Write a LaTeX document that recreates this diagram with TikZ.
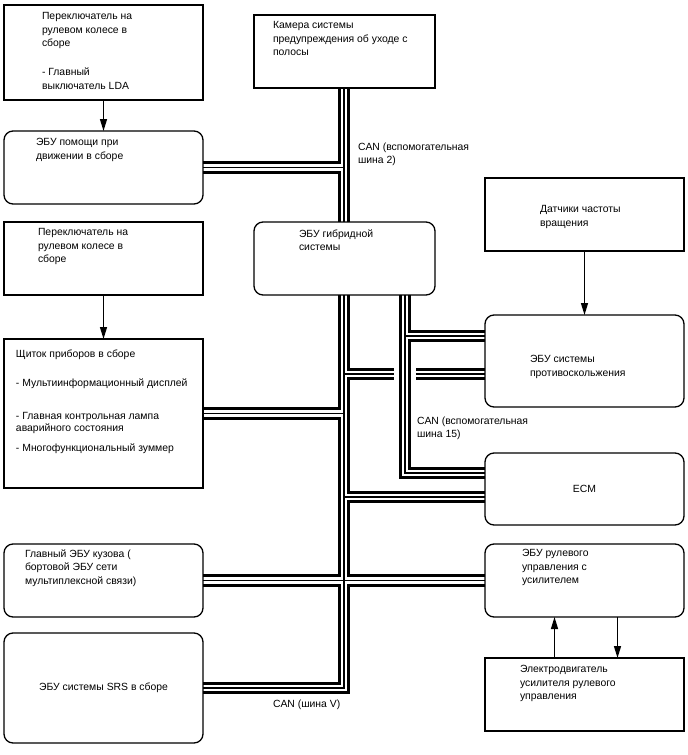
\documentclass[tikz,border=0pt]{standalone}
\usepackage{fontspec}
\setmainfont{Liberation Sans}
\usetikzlibrary{arrows.meta,positioning,calc,backgrounds}
\tikzset{
 box/.style={draw,line width=1.3pt,anchor=north west,outer sep=0pt,inner sep=0pt,minimum width=199pt,font=\fontsize{10.4}{13.5}\selectfont},
 ecu/.style={box,rounded corners=9pt},
 txt/.style={anchor=north west,align=left,inner sep=0pt,outer sep=0pt,font=\fontsize{10.4}{13.5}\selectfont},
 arr/.style={-{Triangle[length=12pt,width=7pt]},line width=1.3pt},
 busout/.style={line width=12.5pt,draw=black},
 busgap/.style={line width=6.5pt,draw=white},
 busmid/.style={line width=1.6pt,draw=black},
 hop/.style={line width=22pt,draw=white}
}
\begin{document}
\begin{tikzpicture}[x=1pt,y=-1pt]
\useasboundingbox (0,0) rectangle (688,755);
% left column
\node[box,minimum height=95pt] (sw1) at (4,5) {};
\node[txt,below right=7.5pt and 38pt of sw1.north west] (sw1t) {Переключатель на\\рулевом колесе в\\сборе\\[15.5pt]- Главный\\выключатель LDA};
\node[ecu,minimum height=73pt] (da) at (4,131) {};
\node[txt,below right=7.5pt and 32pt of da.north west] (dat1) {ЭБУ помощи при\\движении в сборе};
\node[box,minimum height=73pt] (sw2) at (4,222) {};
\node[txt,below right=6.5pt and 34pt of sw2.north west] (sw2t) {Переключатель на\\рулевом колесе в\\сборе};
\node[box,minimum height=149pt] (cl) at (4,339) {};
\node[txt,below right=10.5pt and 12pt of cl.north west] (clt) {Щиток приборов в сборе\\[15.5pt]- Мультиинформационный дисплей\\[19.5pt]- Главная контрольная лампа\\[-1.5pt]аварийного состояния\\[6.5pt]- Многофункциональный зуммер};
\node[ecu,minimum height=73pt] (body) at (4,544) {};
\node[txt,below right=5.5pt and 21pt of body.north west] (bodyt) {Главный ЭБУ кузова (\\бортовой ЭБУ сети\\мультиплексной связи)};
\node[ecu,minimum height=110pt] (srs) at (4,633) {ЭБУ системы SRS в сборе};
% middle column
\node[box,minimum width=181pt,minimum height=73pt] (cam) at (254,15) {};
\node[txt,below right=6.5pt and 19pt of cam.north west] (camt) {Камера системы\\предупреждения об уходе с\\полосы};
\node[ecu,minimum width=181pt,minimum height=73pt] (hyb) at (254,222) {};
\node[txt,below right=7.5pt and 45pt of hyb.north west] (hybt) {ЭБУ гибридной\\системы};
% right column
\node[box,minimum height=73pt] (sens) at (485,178) {};
\node[txt,below right=27.5pt and 55pt of sens.north west] (senst) {Датчики частоты\\вращения};
\node[ecu,minimum height=92pt] (abs) at (485,315) {};
\node[txt,below right=40.5pt and 45pt of abs.north west] (abst) {ЭБУ системы\\противоскольжения};
\node[ecu,minimum height=72pt] (ecm) at (485,453) {ECM};
\node[ecu,minimum height=73pt] (eps) at (485,544) {};
\node[txt,below right=5.5pt and 37pt of eps.north west] (epst) {ЭБУ рулевого\\управления с\\усилителем};
\node[box,minimum height=73pt] (mot) at (485,658) {};
\node[txt,below right=7.5pt and 35pt of mot.north west] (mott) {Электродвигатель\\усилителя рулевого\\управления};
% bus labels
\node[txt] (lbl2) at (358,142.5) {CAN (вспомогательная\\шина 2)};
\node[txt] (lbl15) at (417,416.5) {CAN (вспомогательная\\шина 15)};
\node[txt] (lblv) at (273,699.5) {CAN (шина V)};
% arrows
\draw[arr] (sw1.south) -- (da.north);
\draw[arr] (sw2.south) -- (cl.north);
\draw[arr] (sens.south) -- (abs.north);
\draw[arr] ([xshift=-30pt]mot.north) -- ([xshift=-30pt]eps.south);
\draw[arr] ([xshift=33pt]eps.south) -- ([xshift=33pt]mot.north);
% buses
\coordinate (trunk) at (344,0);
\coordinate (sub15) at (405,0);
\coordinate (abm) at ([yshift=-13pt]abs.west);
\coordinate (ab15) at ([yshift=25pt]abs.west);
\coordinate (ecmm) at ([yshift=-8pt]ecm.west);
\coordinate (ecm15) at ([yshift=16pt]ecm.west);
\begin{scope}[on background layer]
\foreach \s in {busout,busgap,busmid} {
 \draw[\s] (cam.south -| trunk) -- (hyb.north -| trunk);
 \draw[\s] (da.east) -- (trunk |- da.east);
 \draw[\s] (hyb.south -| trunk) -- (trunk |- srs.east) -- (srs.east);
 \draw[\s] (trunk |- abm) -- (abm);
 \draw[\s] (cl.east) -- (trunk |- cl.east);
 \draw[\s] (trunk |- ecmm) -- (ecmm);
 \draw[\s] (body.east) -- (eps.west);
}
\draw[hop] ($(sub15 |- abm)+(0,-8)$) -- ($(sub15 |- abm)+(0,8)$);
\foreach \s in {busout,busgap,busmid} {
 \draw[\s] (hyb.south -| sub15) -- (sub15 |- ecm15) -- (ecm15);
 \draw[\s] (sub15 |- ab15) -- (ab15);
}
\end{scope}
\end{tikzpicture}
\end{document}
